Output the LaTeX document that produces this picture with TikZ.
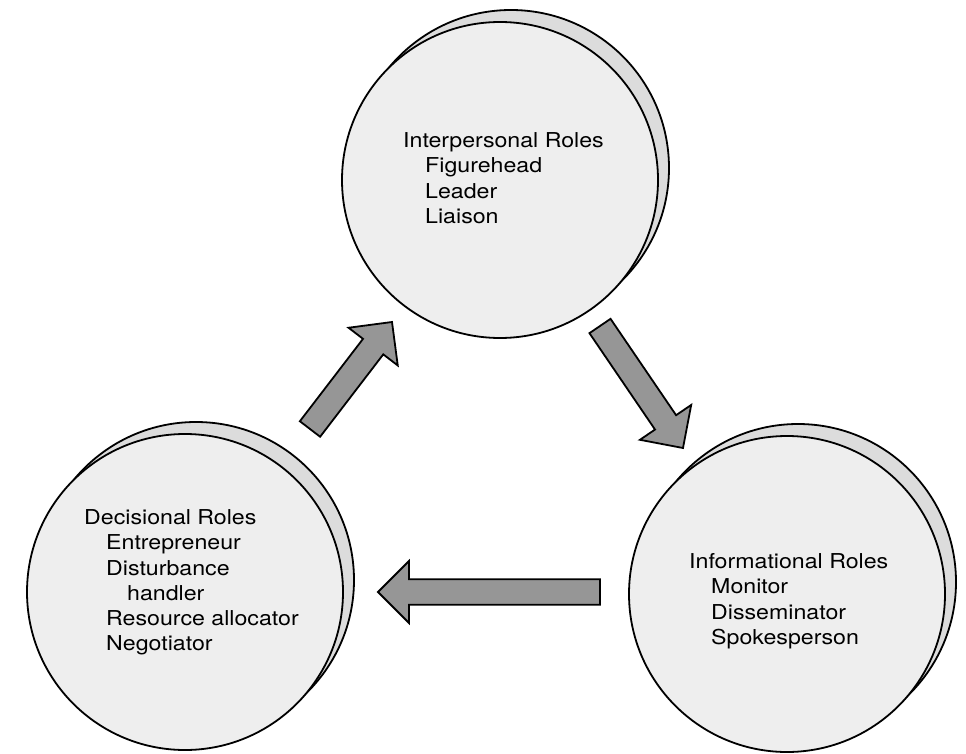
\documentclass[tikz,border=0pt]{standalone}
\usepackage{fontspec}
\setmainfont{TeX Gyre Heros}[FakeStretch=1.13]
\usetikzlibrary{calc}
\definecolor{DiscFace}{RGB}{238,238,238}
\definecolor{DiscRim}{RGB}{220,220,220}
\definecolor{ArrowGray}{RGB}{150,150,150}

\begin{document}
\begin{tikzpicture}[x=1pt, y=-1pt,
    disc/.style={circle, draw, line width=1.8pt, minimum size=316pt, inner sep=0pt},
    rim/.style={disc, fill=DiscRim},
    face/.style={disc, fill=DiscFace},
    roles/.style={anchor=north west, inner sep=0pt, align=left,
      font=\fontsize{20.5}{25.3}\selectfont},
    block arrow/.style={draw, line width=1.8pt, fill=ArrowGray, line join=miter}]
  \useasboundingbox (0,0) rectangle (966,754);

  % Interpersonal roles
  \node[rim] (int-rim) at (511,168) {};
  \node[face] (int) at (500,180) {};
  \node[roles] (int-text) at (403,132.3) {Interpersonal Roles\\
    \hspace*{22pt}Figurehead\\
    \hspace*{22pt}Leader\\
    \hspace*{22pt}Liaison};

  % Decisional roles
  \node[rim] (dec-rim) at (196,580) {};
  \node[face] (dec) at (185,592) {};
  \node[roles] (dec-text) at (84,509.3) {Decisional Roles\\
    \hspace*{22pt}Entrepreneur\\
    \hspace*{22pt}Disturbance\\
    \hspace*{43pt}handler\\
    \hspace*{22pt}Resource allocator\\
    \hspace*{22pt}Negotiator};

  % Informational roles
  \node[rim] (inf-rim) at (798,582) {};
  \node[face] (inf) at (787,594) {};
  \node[roles] (inf-text) at (689,553.3) {Informational Roles\\
    \hspace*{22pt}Monitor\\
    \hspace*{22pt}Disseminator\\
    \hspace*{22pt}Spokesperson};

  % Arrow ends
  \coordinate (dec-out) at (310,429);
  \coordinate (int-in) at (392,322);
  \coordinate (int-out) at (600,326);
  \coordinate (inf-in) at (683,448);
  \coordinate (inf-out) at (600,592);
  \coordinate (dec-in) at (378,592);

  % Block arrows
  \foreach \from/\to in {dec-out/int-in, int-out/inf-in, inf-out/dec-in}{
    \coordinate (neck) at ($(\to)!31pt!(\from)$);
    \draw[block arrow] ($(\from)!12.75pt!90:(\to)$)
      -- ($(neck)!12.75pt!-90:(\from)$) -- ($(neck)!31pt!-90:(\from)$)
      -- (\to)
      -- ($(neck)!31pt!90:(\from)$) -- ($(neck)!12.75pt!90:(\from)$)
      -- ($(\from)!12.75pt!-90:(\to)$) -- cycle;
  }
\end{tikzpicture}
\end{document}
